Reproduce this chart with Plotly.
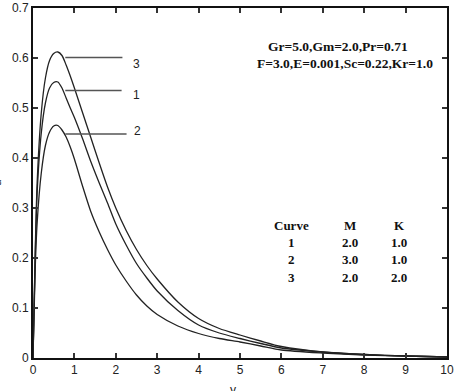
import plotly.graph_objects as go

# ---- data ----
x_vals = [0, 0.05, 0.1, 0.2, 0.3, 0.4, 0.5, 0.6, 0.7, 0.8, 0.9, 1.0, 1.2, 1.4, 1.6, 1.8, 2.0,
          2.25, 2.5, 2.75, 3.0, 3.5, 4.0, 4.5, 5.0, 5.5, 6.0, 7.0, 8.0, 9.0, 10.0]
curve1 = [0, 0.19, 0.33, 0.45, 0.51, 0.54, 0.551, 0.552, 0.54, 0.52, 0.50, 0.481, 0.438, 0.392, 0.35,
          0.31, 0.268, 0.226, 0.189, 0.16, 0.134, 0.095, 0.066, 0.050, 0.039, 0.029, 0.020, 0.012,
          0.007, 0.004, 0.002]
curve2 = [0, 0.17, 0.27, 0.37, 0.425, 0.452, 0.464, 0.465, 0.456, 0.442, 0.422, 0.398, 0.343, 0.292,
          0.252, 0.217, 0.186, 0.154, 0.126, 0.104, 0.087, 0.064, 0.049, 0.039, 0.032, 0.024,
          0.016, 0.010, 0.006, 0.004, 0.002]
curve3 = [0, 0.20, 0.35, 0.49, 0.56, 0.595, 0.609, 0.612, 0.605, 0.586, 0.564, 0.54, 0.49, 0.44,
          0.39, 0.342, 0.30, 0.255, 0.217, 0.185, 0.158, 0.112, 0.079, 0.059, 0.046, 0.034,
          0.023, 0.012, 0.007, 0.004, 0.002]

curve_names = ["1", "2", "3"]
curve_data = [curve1, curve2, curve3]
# leader lines
leader_y = [0.535, 0.448, 0.601]
leader_x0 = [0.78, 0.78, 0.78]
leader_x1 = [2.14, 2.26, 2.16]

param_line1 = "Gr=5.0,Gm=2.0,Pr=0.71"
param_line2 = "F=3.0,E=0.001,Sc=0.22,Kr=1.0"
table_header = ["Curve", "M", "K"]
table_rows = [["1", "2.0", "1.0"], ["2", "3.0", "1.0"], ["3", "2.0", "2.0"]]

x_ticks = list(range(0, 11))
y_ticks = [0, 0.1, 0.2, 0.3, 0.4, 0.5, 0.6, 0.7]
y_tick_text = ["0", "0.1", "0.2", "0.3", "0.4", "0.5", "0.6", "0.7"]

fig = go.Figure()
for name, ys in zip(curve_names, curve_data):
    fig.add_trace(go.Scatter(x=x_vals, y=ys, mode="lines", name=name,
                             line=dict(color="#222222", width=1.3, shape="spline", smoothing=0.7),
                             showlegend=False))

for name, ly, lx0, lx1 in zip(curve_names, leader_y, leader_x0, leader_x1):
    fig.add_shape(type="line", x0=lx0, x1=lx1, y0=ly, y1=ly, xref="x", yref="y",
                  line=dict(color="#555555", width=1.5))

label_dy = {"1": -4, "2": 3, "3": -6}
label_dx = {"1": 15, "2": 11, "3": 14}
for name, ly, lx1 in zip(curve_names, leader_y, leader_x1):
    fig.add_annotation(x=lx1, y=ly, xref="x", yref="y", text=name, showarrow=False,
                       xanchor="center", yanchor="middle", xshift=label_dx[name],
                       yshift=label_dy[name],
                       font=dict(family="Liberation Sans, Arial", size=12, color="#222222"))

serif_big = dict(family="Liberation Serif, Times New Roman", size=13.5, color="#111111")
serif = dict(family="Liberation Serif, Times New Roman", size=13, color="#111111")
fig.add_annotation(x=(337.5 - 33) / 414, y=(358 - 46.5) / 350, xref="paper", yref="paper",
                   text="<b>" + param_line1 + "</b>", showarrow=False,
                   xanchor="center", yanchor="middle", font=serif_big)
fig.add_annotation(x=(344.5 - 33) / 414, y=(358 - 63.5) / 350, xref="paper", yref="paper",
                   text="<b>" + param_line2 + "</b>", showarrow=False,
                   xanchor="center", yanchor="middle", font=serif_big)

col_px = [291.5, 350, 399]
row_py = [225, 242, 259.7, 277]
all_rows = [table_header] + table_rows
for r, row in enumerate(all_rows):
    for c, cell in enumerate(row):
        fig.add_annotation(x=(col_px[c] - 33) / 414, y=(358 - row_py[r]) / 350,
                           xref="paper", yref="paper", text="<b>" + cell + "</b>",
                           showarrow=False, xanchor="center", yanchor="middle", font=serif)

# axis titles (clipped at page edges as in reference)
fig.add_annotation(x=(233 - 33) / 414, y=(358 - 390) / 350, xref="paper", yref="paper",
                   text="y", showarrow=False, xanchor="center", yanchor="middle",
                   font=dict(family="Liberation Sans, Arial", size=12, color="#222222"))
fig.add_annotation(x=(-3 - 33) / 414, y=(358 - 183) / 350, xref="paper", yref="paper",
                   text="u", showarrow=False, xanchor="center", yanchor="middle", textangle=-90,
                   font=dict(family="Liberation Sans, Arial", size=12, color="#222222"))

axis_common = dict(showgrid=False, zeroline=False, showline=True, linecolor="#111111",
                   linewidth=2, mirror="ticks", ticks="inside", ticklen=5, tickwidth=1.5,
                   tickcolor="#333333", automargin=False,
                   tickfont=dict(family="Liberation Sans, Arial", size=12, color="#222222"))

fig.update_xaxes(range=[0, 10], tickvals=x_ticks, ticktext=[str(t) for t in x_ticks],
                 **axis_common)
fig.update_yaxes(range=[0, 0.7], tickvals=y_ticks, ticktext=y_tick_text, **axis_common)

fig.update_layout(width=455, height=391, margin=dict(l=33, r=8, t=8, b=33),
                  paper_bgcolor="white", plot_bgcolor="white")

fig.write_html("out.html")
